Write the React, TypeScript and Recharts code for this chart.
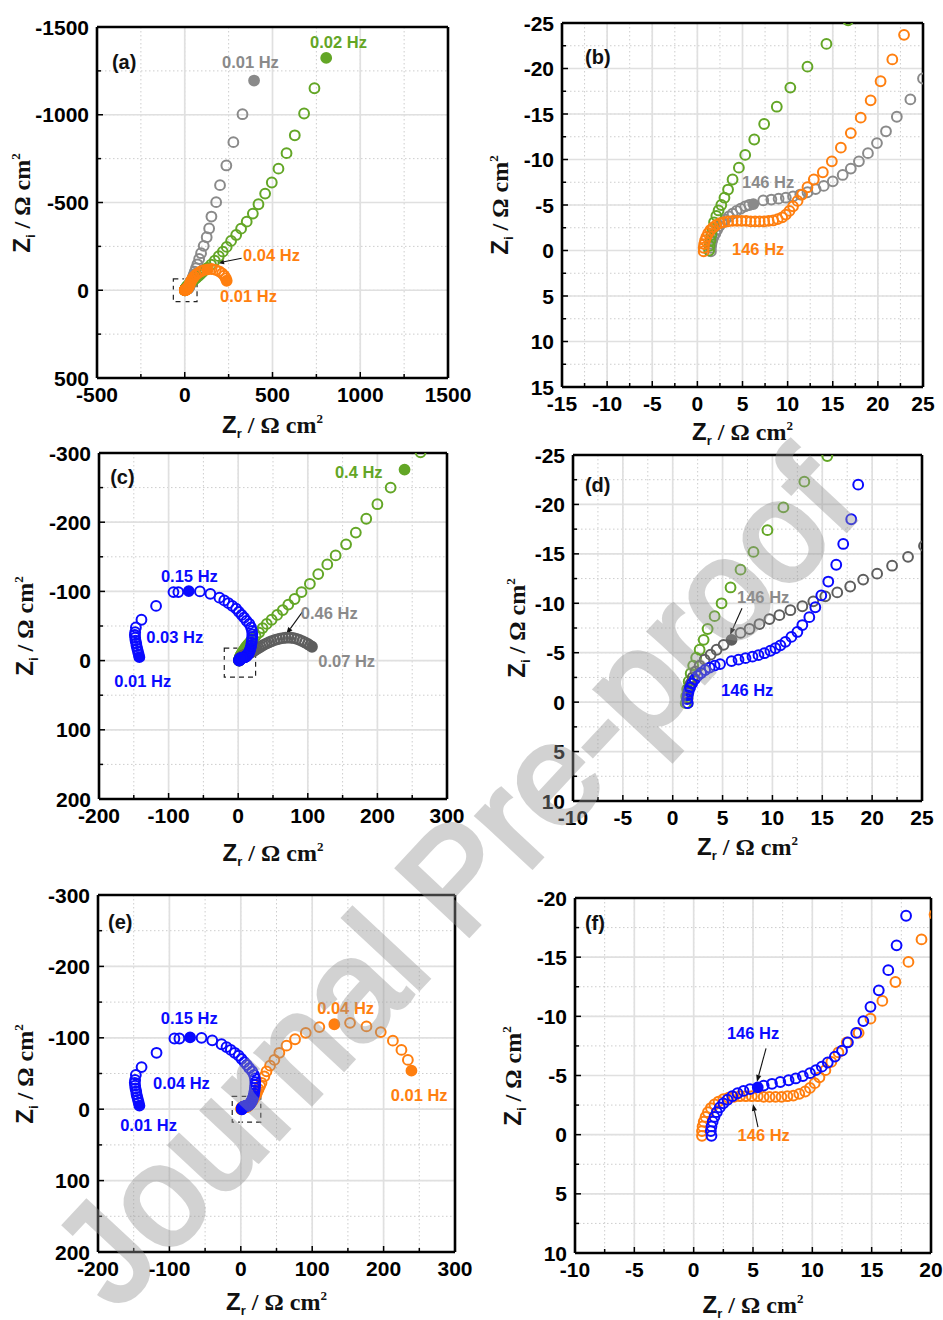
import React from 'react';
import { ScatterChart, Scatter, XAxis, YAxis, CartesianGrid, ReferenceLine, ReferenceArea } from 'recharts';

type P = [number, number];

const SANS = '"Liberation Sans", Arial, sans-serif';
const SERIF = '"Liberation Serif", "Times New Roman", serif';

const C_GRAY = '#8a8a8a';
const C_DGRAY = '#5e5e5e';
const C_GREEN = '#63a626';
const C_ORANGE = '#ff7f0f';
const C_BLUE = '#0a0aff';

// ---------- datasets (Z_r, Z_i) ----------
const GRAY1_OPEN: P[] = [
  [1.5, 0.1], [1.5, -0.3], [1.55, -0.7], [1.65, -1.1], [1.8, -1.5], [2.0, -1.9], [2.2, -2.3], [2.45, -2.7],
  [2.75, -3.05], [3.1, -3.4], [3.5, -3.75], [3.9, -4.05], [4.35, -4.35], [4.8, -4.6], [5.3, -4.85], [5.75, -5.0],
  [7.3, -5.5], [8.2, -5.6], [9.0, -5.7], [9.8, -5.8], [10.6, -5.95], [11.4, -6.15], [12.2, -6.4], [13.1, -6.75],
  [14.0, -7.1], [15.0, -7.6], [16.1, -8.3], [17.0, -9.0], [17.9, -9.8], [18.9, -10.7], [19.9, -11.8], [20.9, -13.1],
  [22.1, -14.7], [23.6, -16.6], [25.0, -18.9], [26.6, -22], [28.5, -27], [31, -33], [34, -41], [37.5, -50],
  [41.5, -61], [46, -74], [51, -89], [57, -106], [64, -126], [72, -148], [82, -178], [93, -211], [108, -253],
  [125, -302], [139, -352], [152, -420], [179, -502], [201, -599], [237, -711], [277, -844], [329, -1003],
];
const GRAY1_FILLED: P[] = [[6.2, -5.1], [395, -1195]];

const GREEN1_OPEN: P[] = [
  [1.3, 0], [1.35, -0.5], [1.45, -1.1], [1.55, -1.7], [1.7, -2.4], [1.85, -3.1], [2.1, -3.8], [2.35, -4.4],
  [2.65, -5.0], [3.0, -5.8], [3.4, -6.7], [3.9, -7.8], [4.6, -9.1], [5.3, -10.5], [6.3, -12.2], [7.4, -13.9],
  [8.8, -15.8], [10.3, -17.9], [12.2, -20.2], [14.3, -22.7], [16.7, -25.3], [19.5, -28.3], [22.8, -31.5],
  [26.5, -35], [31, -39.5], [36, -44.5], [42, -50], [49, -56], [57, -63], [66, -71], [76, -80], [87, -90],
  [99, -101], [112, -114], [130, -128], [150, -146], [171, -169], [194, -194], [217, -220], [239, -247],
  [264, -281], [293, -315], [321, -351], [353, -391], [388, -437], [420, -490], [458, -551], [496, -614],
  [534, -693], [580, -781], [627, -883], [680, -1007], [739, -1151],
];
const GREEN1_FILLED: P[] = [[806, -1324]];

const ORANGE_OPEN: P[] = [
  [0.7, 0.1], [0.7, -0.3], [0.75, -0.7], [0.85, -1.1], [1.0, -1.5], [1.2, -1.9], [1.45, -2.25], [1.75, -2.55],
  [2.1, -2.8], [2.5, -3.0], [2.95, -3.12], [3.4, -3.2], [3.9, -3.25], [4.4, -3.25], [4.9, -3.25], [5.4, -3.25],
  [5.9, -3.2], [6.4, -3.2], [6.9, -3.2], [7.4, -3.2], [7.9, -3.25], [8.4, -3.3], [8.9, -3.45], [9.4, -3.65],
  [9.8, -3.95], [10.2, -4.35], [10.6, -4.85], [11.1, -5.45], [11.6, -6.15], [12.2, -6.95], [12.9, -7.8],
  [13.9, -8.6], [14.9, -9.8], [15.9, -11.3], [17.0, -12.9], [18.1, -14.6], [19.2, -16.5], [20.3, -18.6],
  [21.6, -21.0], [22.9, -23.7], [24.8, -28], [27, -32.5], [29, -37], [33, -46], [36, -53], [41, -61], [47, -69],
  [54, -79], [64, -89], [76, -98], [91, -107], [110, -115], [153, -121], [176, -116], [196, -108], [213, -96],
  [225, -83], [234, -69],
];
const ORANGE_FILLED: P[] = [[131, -119], [239, -54]];

const GRAY2_OPEN: P[] = [
  [1.5, 0.1], [1.5, -0.4], [1.55, -0.9], [1.65, -1.4], [1.8, -1.9], [2.0, -2.5], [2.3, -3.1], [2.7, -3.7],
  [3.2, -4.3], [3.8, -4.8], [4.4, -5.3], [5.1, -5.8], [6.8, -7.0], [7.7, -7.4], [8.7, -7.9], [9.7, -8.4],
  [10.7, -8.8], [11.8, -9.3], [13.0, -9.7], [14.1, -10.2], [15.3, -10.7], [16.5, -11.1], [17.8, -11.7],
  [19.1, -12.4], [20.5, -13.0], [22.0, -13.8], [23.6, -14.7], [25.2, -15.8], [27, -17], [29.5, -18.5], [32, -20],
  [35, -21.8], [38, -23.5], [41, -25], [44.5, -26.5], [48, -28], [52, -29.5], [56, -30.8], [60, -31.8], [64, -32.5],
  [68, -33], [72, -33.2], [76, -33], [80, -32.4], [84, -31.4], [88, -30], [92, -28.2], [96, -26.2], [100, -24],
  [103, -22],
];
const GRAY2_FILLED: P[] = [[5.9, -6.3], [106, -20]];

const GREEN2_OPEN: P[] = [
  [1.3, 0.1], [1.35, -0.6], [1.45, -1.3], [1.6, -2.1], [1.8, -2.9], [2.05, -3.7], [2.35, -4.5], [2.7, -5.3],
  [3.1, -6.3], [3.5, -7.4], [4.2, -8.7], [4.9, -10.0], [5.8, -11.6], [6.8, -13.4], [8.1, -15.2], [9.5, -17.4],
  [11.1, -19.7], [13.2, -22.3], [15.5, -24.9], [18, -28], [21, -31.5], [25, -35.5], [30, -40.5], [35, -47],
  [41, -53], [48, -59], [56, -66], [64, -73], [72, -81], [81, -89], [91, -99], [103, -111], [115, -125],
  [128, -139], [140, -152], [155, -168], [169, -185], [184, -205], [200, -226], [219, -250], [262, -301],
];
const GREEN2_FILLED: P[] = [[239, -276]];

const BLUE_OPEN: P[] = [
  [1.5, 0.1], [1.45, -0.3], [1.5, -0.7], [1.6, -1.1], [1.75, -1.5], [1.95, -1.9], [2.2, -2.3], [2.5, -2.65],
  [2.85, -2.95], [3.25, -3.25], [3.7, -3.5], [4.2, -3.7], [4.75, -3.85], [5.9, -4.15], [6.6, -4.3], [7.3, -4.45],
  [8.0, -4.6], [8.6, -4.75], [9.2, -4.95], [9.8, -5.2], [10.3, -5.45], [10.8, -5.75], [11.3, -6.1], [11.9, -6.6],
  [12.5, -7.1], [13.0, -7.8], [13.7, -8.6], [14.3, -9.6], [14.9, -10.8], [15.6, -12.2], [16.4, -13.9],
  [17.1, -16.0], [17.9, -18.5], [18.6, -22.0], [19.3, -26], [19.8, -30], [20.2, -34], [20.3, -38], [19.8, -43],
  [18.5, -48], [16, -53], [12, -57.5], [8.5, -62], [5, -66], [1, -70.5], [-3, -75], [-8.5, -79], [-14, -83],
  [-20, -87], [-27, -91], [-40, -96.5], [-55, -100], [-86, -99], [-93, -99], [-118, -79], [-139, -59], [-147, -48],
  [-148, -41], [-148.5, -37], [-148, -33], [-147.5, -29], [-146.5, -25], [-146, -21], [-145, -17], [-144, -13],
  [-143, -9],
];
const BLUE_FILLED: P[] = [[5.4, -4.0], [-71, -100.5], [-142, -5]];

// ---------- tick values ----------
const A_X_MAJOR = [-500, 0, 500, 1000, 1500];
const A_X_MINOR = [-250, 250, 750, 1250];
const A_Y_MAJOR = [-1500, -1000, -500, 0, 500];
const A_Y_MINOR = [-1250, -750, -250, 250];
const B_X_MAJOR = [-15, -10, -5, 0, 5, 10, 15, 20, 25];
const B_X_MINOR = [-12.5, -7.5, -2.5, 2.5, 7.5, 12.5, 17.5, 22.5];
const B_Y_MAJOR = [-25, -20, -15, -10, -5, 0, 5, 10, 15];
const B_Y_MINOR = [-22.5, -17.5, -12.5, -7.5, -2.5, 2.5, 7.5, 12.5];
const C_X_MAJOR = [-200, -100, 0, 100, 200, 300];
const C_X_MINOR = [-150, -50, 50, 150, 250];
const C_Y_MAJOR = [-300, -200, -100, 0, 100, 200];
const C_Y_MINOR = [-250, -150, -50, 50, 150];
const D_X_MAJOR = [-10, -5, 0, 5, 10, 15, 20, 25];
const D_X_MINOR = [-7.5, -2.5, 2.5, 7.5, 12.5, 17.5, 22.5];
const D_Y_MAJOR = [-25, -20, -15, -10, -5, 0, 5, 10];
const D_Y_MINOR = [-22.5, -17.5, -12.5, -7.5, -2.5, 2.5, 7.5];
const F_X_MAJOR = [-10, -5, 0, 5, 10, 15, 20];
const F_X_MINOR = [-7.5, -2.5, 2.5, 7.5, 12.5, 17.5];
const F_Y_MAJOR = [-20, -15, -10, -5, 0, 5, 10];
const F_Y_MINOR = [-17.5, -12.5, -7.5, -2.5, 2.5, 7.5];

interface SeriesDef { data: P[]; color: string; filled?: boolean }
interface NoteDef { at: P; text: string; color: string; size?: number }
interface ArrowDef { from: P; to: P }
interface PanelDef {
  id: string;
  frame: { left: number; top: number; width: number; height: number };
  xDomain: [number, number]; yDomain: [number, number];
  xMajor: number[]; xMinor: number[]; yMajor: number[]; yMinor: number[];
  series: SeriesDef[]; notes: NoteDef[]; arrows: ArrowDef[];
  box?: [number, number, number, number];
  yTitleDx: number; xTitleDy: number;
}

const PANELS: PanelDef[] = [
  {
    id: 'a', frame: { left: 97, top: 27, width: 351, height: 351 },
    xDomain: [-500, 1500], yDomain: [-1500, 500],
    xMajor: A_X_MAJOR, xMinor: A_X_MINOR, yMajor: A_Y_MAJOR, yMinor: A_Y_MINOR,
    series: [
      { data: GRAY1_OPEN, color: C_GRAY }, { data: GREEN1_OPEN, color: C_GREEN },
      { data: GRAY1_FILLED, color: C_GRAY, filled: true }, { data: GREEN1_FILLED, color: C_GREEN, filled: true },
      { data: ORANGE_OPEN, color: C_ORANGE }, { data: ORANGE_FILLED, color: C_ORANGE, filled: true },
    ],
    notes: [
      { at: [-415, -1301], text: '(a)', color: '#111', size: 20 },
      { at: [212, -1301], text: '0.01 Hz', color: C_GRAY },
      { at: [714, -1415], text: '0.02 Hz', color: C_GREEN },
      { at: [332, -201], text: '0.04 Hz', color: C_ORANGE },
      { at: [201, 33], text: '0.01 Hz', color: C_ORANGE },
    ],
    arrows: [{ from: [324, -182], to: [184, -155] }],
    box: [-65, 70, -65, 65], yTitleDx: 75, xTitleDy: 55,
  },
  {
    id: 'b', frame: { left: 562, top: 23, width: 361, height: 364 },
    xDomain: [-15, 25], yDomain: [-25, 15],
    xMajor: B_X_MAJOR, xMinor: B_X_MINOR, yMajor: B_Y_MAJOR, yMinor: B_Y_MINOR,
    series: [
      { data: GRAY1_OPEN, color: C_GRAY }, { data: GRAY1_FILLED, color: C_GRAY, filled: true },
      { data: GREEN1_OPEN, color: C_GREEN }, { data: ORANGE_OPEN, color: C_ORANGE },
    ],
    notes: [
      { at: [-12.45, -21.3], text: '(b)', color: '#111', size: 20 },
      { at: [4.94, -7.5], text: '146 Hz', color: C_GRAY },
      { at: [3.84, -0.16], text: '146 Hz', color: C_ORANGE },
    ],
    arrows: [], yTitleDx: 62, xTitleDy: 53,
  },
  {
    id: 'c', frame: { left: 99, top: 453, width: 348, height: 346 },
    xDomain: [-200, 300], yDomain: [-300, 200],
    xMajor: C_X_MAJOR, xMinor: C_X_MINOR, yMajor: C_Y_MAJOR, yMinor: C_Y_MINOR,
    series: [
      { data: GREEN2_OPEN, color: C_GREEN }, { data: GREEN2_FILLED, color: C_GREEN, filled: true },
      { data: GRAY2_OPEN, color: C_DGRAY }, { data: GRAY2_FILLED, color: C_DGRAY, filled: true },
      { data: BLUE_OPEN, color: C_BLUE }, { data: BLUE_FILLED, color: C_BLUE, filled: true },
    ],
    notes: [
      { at: [-184, -265], text: '(c)', color: '#111', size: 20 },
      { at: [139, -273], text: '0.4 Hz', color: C_GREEN },
      { at: [-111, -122], text: '0.15 Hz', color: C_BLUE },
      { at: [-132, -34], text: '0.03 Hz', color: C_BLUE },
      { at: [-178, 29], text: '0.01 Hz', color: C_BLUE },
      { at: [90, -69], text: '0.46 Hz', color: C_GRAY },
      { at: [115, 0.6], text: '0.07 Hz', color: C_GRAY },
    ],
    arrows: [{ from: [92, -70], to: [69, -38] }],
    box: [-20, 25, -18, 24], yTitleDx: 74, xTitleDy: 62,
  },
  {
    id: 'd', frame: { left: 573, top: 455, width: 349, height: 346 },
    xDomain: [-10, 25], yDomain: [-25, 10],
    xMajor: D_X_MAJOR, xMinor: D_X_MINOR, yMajor: D_Y_MAJOR, yMinor: D_Y_MINOR,
    series: [
      { data: GREEN2_OPEN, color: C_GREEN },
      { data: GRAY2_OPEN, color: C_DGRAY }, { data: GRAY2_FILLED, color: C_DGRAY, filled: true },
      { data: BLUE_OPEN, color: C_BLUE },
    ],
    notes: [
      { at: [-8.8, -22], text: '(d)', color: '#111', size: 20 },
      { at: [6.45, -10.6], text: '146 Hz', color: C_GRAY },
      { at: [4.85, -1.2], text: '146 Hz', color: C_BLUE },
    ],
    arrows: [{ from: [6.95, -9.5], to: [5.75, -6.8] }],
    yTitleDx: 56, xTitleDy: 54,
  },
  {
    id: 'e', frame: { left: 98, top: 895, width: 357, height: 357 },
    xDomain: [-200, 300], yDomain: [-300, 200],
    xMajor: C_X_MAJOR, xMinor: C_X_MINOR, yMajor: C_Y_MAJOR, yMinor: C_Y_MINOR,
    series: [
      { data: ORANGE_OPEN, color: C_ORANGE }, { data: ORANGE_FILLED, color: C_ORANGE, filled: true },
      { data: BLUE_OPEN, color: C_BLUE }, { data: BLUE_FILLED, color: C_BLUE, filled: true },
    ],
    notes: [
      { at: [-186, -262], text: '(e)', color: '#111', size: 20 },
      { at: [-112, -128], text: '0.15 Hz', color: C_BLUE },
      { at: [-123, -37], text: '0.04 Hz', color: C_BLUE },
      { at: [-169, 22], text: '0.01 Hz', color: C_BLUE },
      { at: [107, -142], text: '0.04 Hz', color: C_ORANGE },
      { at: [210, -20], text: '0.01 Hz', color: C_ORANGE },
    ],
    arrows: [],
    box: [-12, 28, -18, 18], yTitleDx: 73, xTitleDy: 58,
  },
  {
    id: 'f', frame: { left: 575, top: 898, width: 356, height: 355 },
    xDomain: [-10, 20], yDomain: [-20, 10],
    xMajor: F_X_MAJOR, xMinor: F_X_MINOR, yMajor: F_Y_MAJOR, yMinor: F_Y_MINOR,
    series: [
      { data: ORANGE_OPEN, color: C_ORANGE },
      { data: BLUE_OPEN, color: C_BLUE }, { data: BLUE_FILLED, color: C_BLUE, filled: true },
    ],
    notes: [
      { at: [-9.16, -17.9], text: '(f)', color: '#111', size: 20 },
      { at: [2.8, -8.6], text: '146 Hz', color: C_BLUE },
      { at: [3.7, 0], text: '146 Hz', color: C_ORANGE },
    ],
    arrows: [{ from: [6.1, -7.3], to: [5.33, -4.45] }, { from: [5.42, -0.64], to: [5.0, -2.6] }],
    yTitleDx: 62, xTitleDy: 60,
  },
];

const toPts = (a: P[]) => a.map(([x, y]) => ({ x, y }));

const circleShape = (color: string, filled: boolean) => (pr: any) => (
  <circle cx={pr.cx} cy={pr.cy} r={4.9} fill={filled ? color : 'none'} stroke={color} strokeWidth={2} />
);

const makeXTick = (majors: number[]) => (pr: any) => {
  const { x, y, payload } = pr;
  const v = payload.value;
  const major = majors.includes(v);
  return (
    <g>
      <line x1={x} x2={x} y1={y} y2={y - (major ? 6 : 4)} stroke="#000" strokeWidth={1.5} />
      {major && (
        <text x={x} y={y + 24} textAnchor="middle" fontFamily={SANS} fontWeight="bold" fontSize={21} fill="#000">
          {String(v)}
        </text>
      )}
    </g>
  );
};

const makeYTick = (majors: number[]) => (pr: any) => {
  const { x, y, payload } = pr;
  const v = payload.value;
  const major = majors.includes(v);
  return (
    <g>
      <line x1={x} x2={x + (major ? 6 : 4)} y1={y} y2={y} stroke="#000" strokeWidth={1.5} />
      {major && (
        <text x={x - 8} y={y} dy="0.36em" textAnchor="end" fontFamily={SANS} fontWeight="bold" fontSize={21} fill="#000">
          {String(v)}
        </text>
      )}
    </g>
  );
};

const arrowShape = (pr: any) => {
  const { x1, y1, x2, y2 } = pr;
  const ang = Math.atan2(y2 - y1, x2 - x1);
  const L = 7, Wd = 2.6;
  const bx = x2 - L * Math.cos(ang), by = y2 - L * Math.sin(ang);
  const px = -Math.sin(ang) * Wd, py = Math.cos(ang) * Wd;
  return (
    <g>
      <line x1={x1} y1={y1} x2={bx} y2={by} stroke="#111" strokeWidth={1.1} />
      <polygon points={`${x2},${y2} ${bx + px},${by + py} ${bx - px},${by - py}`} fill="#111" />
    </g>
  );
};

const noteShape = (n: NoteDef) => (pr: any) => (
  <text x={pr.cx} y={pr.cy} dy="0.36em" textAnchor="start" fontFamily={SANS} fontWeight="bold"
    fontSize={n.size ?? 16.5} fill={n.color}>
    {n.text}
  </text>
);

function renderPanel(p: PanelDef) {
  const ML = 80, MR = 32, MT = 10, XH = 62;
  const W = p.frame.width + ML + MR;
  const H = p.frame.height + MT + XH;
  const xTicks = [...p.xMajor, ...p.xMinor].sort((a, b) => a - b);
  const yTicks = [...p.yMajor, ...p.yMinor].sort((a, b) => a - b);
  const inner = (v: number, d: [number, number]) => v > d[0] && v < d[1];
  return (
    <div key={p.id} style={{ position: 'absolute', left: p.frame.left - ML, top: p.frame.top - MT }}>
      <ScatterChart width={W} height={H} margin={{ top: MT, right: MR, left: 0, bottom: 0 }}>
        <CartesianGrid stroke="#cdcdcd" strokeDasharray="1.5 2.5" strokeWidth={1} />
        {p.xMajor.filter((v) => inner(v, p.xDomain)).map((v) => (
          <ReferenceLine key={'gx' + v} x={v} stroke="#e0e0e0" strokeWidth={1.7} ifOverflow="visible" />
        ))}
        {p.yMajor.filter((v) => inner(v, p.yDomain)).map((v) => (
          <ReferenceLine key={'gy' + v} y={v} stroke="#e0e0e0" strokeWidth={1.7} ifOverflow="visible" />
        ))}
        <XAxis type="number" dataKey="x" domain={p.xDomain} ticks={xTicks} interval={0} allowDataOverflow
          tickSize={0} tickMargin={0} axisLine={false} tickLine={false} height={XH} tick={makeXTick(p.xMajor)} />
        <YAxis type="number" dataKey="y" domain={p.yDomain} ticks={yTicks} interval={0} allowDataOverflow reversed
          tickSize={0} tickMargin={0} axisLine={false} tickLine={false} width={ML} tick={makeYTick(p.yMajor)} />
        {p.box && (
          <ReferenceArea x1={p.box[0]} x2={p.box[1]} y1={p.box[2]} y2={p.box[3]} fill="none" fillOpacity={0}
            stroke="#222" strokeWidth={1.2} strokeDasharray="5 4" ifOverflow="visible" />
        )}
        {p.series.map((s, i) => (
          <Scatter key={p.id + 's' + i} data={toPts(s.data)} isAnimationActive={false}
            shape={circleShape(s.color, !!s.filled)} />
        ))}
        {p.notes.map((n, i) => (
          <Scatter key={p.id + 'n' + i} data={[{ x: n.at[0], y: n.at[1] }]} isAnimationActive={false}
            shape={noteShape(n)} />
        ))}
        {p.arrows.map((a, i) => (
          <ReferenceLine key={p.id + 'a' + i} segment={[{ x: a.from[0], y: a.from[1] }, { x: a.to[0], y: a.to[1] }]}
            ifOverflow="visible" shape={arrowShape} />
        ))}
        {p.xDomain.map((v) => (
          <ReferenceLine key={'fx' + v} x={v} stroke="#000" strokeWidth={2.6} ifOverflow="visible" />
        ))}
        {p.yDomain.map((v) => (
          <ReferenceLine key={'fy' + v} y={v} stroke="#000" strokeWidth={2.6} ifOverflow="visible" />
        ))}
      </ScatterChart>
    </div>
  );
}

function AxisTitle({ sub }: { sub: string }) {
  return (
    <span style={{ whiteSpace: 'nowrap' }}>
      <span style={{ fontFamily: SANS, fontWeight: 'bold' }}>Z</span>
      <span style={{ fontFamily: SANS, fontWeight: 'bold', fontSize: 13, position: 'relative', top: 5 }}>{sub}</span>
      <span style={{ fontFamily: SERIF, fontWeight: 'bold' }}> / Ω cm</span>
      <span style={{ fontFamily: SERIF, fontWeight: 'bold', fontSize: 13, position: 'relative', top: -10 }}>2</span>
    </span>
  );
}

function renderTitles(p: PanelDef) {
  const f = p.frame;
  const cy = f.top + f.height / 2;
  const cx = f.left - p.yTitleDx;
  return (
    <React.Fragment key={p.id + 't'}>
      <div style={{ position: 'absolute', left: f.left, width: f.width, top: f.top + f.height + p.xTitleDy - 20,
        textAlign: 'center', fontSize: 24, lineHeight: '24px', color: '#111' }}>
        <AxisTitle sub="r" />
      </div>
      <div style={{ position: 'absolute', left: cx - 150, width: 300, top: cy - 12, height: 24,
        textAlign: 'center', fontSize: 24, lineHeight: '24px', color: '#111', transform: 'rotate(-90deg)' }}>
        <AxisTitle sub="i" />
      </div>
    </React.Fragment>
  );
}

export default function App() {
  return (
    <div style={{ position: 'absolute', left: 0, top: 0, width: 943, height: 1320, overflow: 'hidden', background: '#fff' }}>
      {PANELS.map(renderPanel)}
      {PANELS.map(renderTitles)}
      <div style={{ position: 'absolute', left: 455, top: 878, transform: 'translate(-50%, -50%) rotate(-47deg)',
        fontFamily: SANS, fontSize: 142, lineHeight: 1, color: '#969696', opacity: 0.42,
        WebkitTextStroke: '5px #969696', whiteSpace: 'nowrap', pointerEvents: 'none' }}>
        Journal Pre-proof
      </div>
    </div>
  );
}
